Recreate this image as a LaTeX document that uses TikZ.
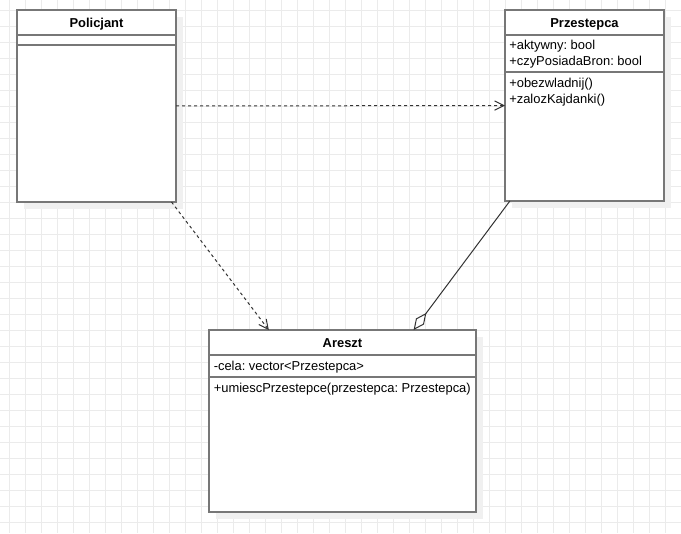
\documentclass[tikz,border=0pt]{standalone}
\usepackage{fontspec}
\setmainfont{Liberation Sans}
\usetikzlibrary{arrows.meta,shadows}
\definecolor{boxgray}{HTML}{777777}
\definecolor{gridgray}{HTML}{EBEBEB}
\definecolor{shadowgray}{HTML}{F0F0F0}
\definecolor{linegray}{HTML}{333333}

\begin{document}
\begin{tikzpicture}[x=0.75pt,y=-0.75pt,umlbox/.style={rectangle,draw=boxgray,line width=1.1pt,fill=white,inner sep=0pt,outer sep=0pt,drop shadow={shadow xshift=5pt,shadow yshift=-5pt,fill=shadowgray,opacity=1}},divider/.style={draw=boxgray,line width=1.1pt},title/.style={anchor=base,inner sep=0pt,font=\fontsize{9.7pt}{12pt}\selectfont\frenchspacing\bfseries},member/.style={anchor=base west,inner sep=0pt,font=\fontsize{9.7pt}{12pt}\selectfont\frenchspacing},dep/.style={draw=linegray,line width=0.75pt,dash pattern=on 2.25pt off 2.25pt,-{Straight Barb[length=7pt,width=7pt]}},agg/.style={draw=linegray,line width=0.75pt,-{Diamond[open,length=16pt,width=7.5pt]}}]
	\useasboundingbox (0,0) rectangle (681,533);
	\fill[white] (0,0) rectangle (681,533);
	\foreach \gx in {9,25,...,681}
		\draw[gridgray,line width=0.75pt] (\gx,0) -- (\gx,533);
	\foreach \gy in {10,26,...,533}
		\draw[gridgray,line width=0.75pt] (0,\gy) -- (681,\gy);

	\node[umlbox,minimum width=119.25pt,minimum height=144pt]		(pol)	at (96.5,106)	{};
	\node[umlbox,minimum width=119.25pt,minimum height=143.25pt]	(prz)	at (584.5,105.5)	{};
	\node[umlbox,minimum width=200.25pt,minimum height=136.5pt]		(ar)	at (342.5,421)	{};

	\draw[divider] (17,35) -- (176,35);
	\draw[divider] (17,45) -- (176,45);
	\draw[divider] (505,35) -- (664,35);
	\draw[divider] (505,72) -- (664,72);
	\draw[divider] (209,355) -- (476,355);
	\draw[divider] (209,377) -- (476,377);

	\node[title]	(poltitle)	at (96.5,27)	{Policjant};
	\node[title]	(prztitle)	at (584.5,27)	{Przestepca};
	\node[title]	(artitle)	at (342.5,347)	{Areszt};

	\node[member]	(aktywny)	at (509,49)		{+aktywny: bool};
	\node[member]	(bron)		at (509,65)		{+czyPosiadaBron: bool};
	\node[member]	(obezw)		at (509,87)		{+obezwladnij()};
	\node[member]	(kajdanki)	at (509,103)	{+zalozKajdanki()};
	\node[member]	(cela)		at (213.5,370)	{-cela: vector<Przestepca>};
	\node[member]	(umiesc)	at (213.5,392)	{+umiescPrzestepce(przestepca: Przestepca)};

	\draw[dep] (pol) -- (prz);
	\draw[dep] (pol.-52) -- (ar.129);
	\draw[agg] (prz.-128) -- (ar.52);
\end{tikzpicture}
\end{document}
